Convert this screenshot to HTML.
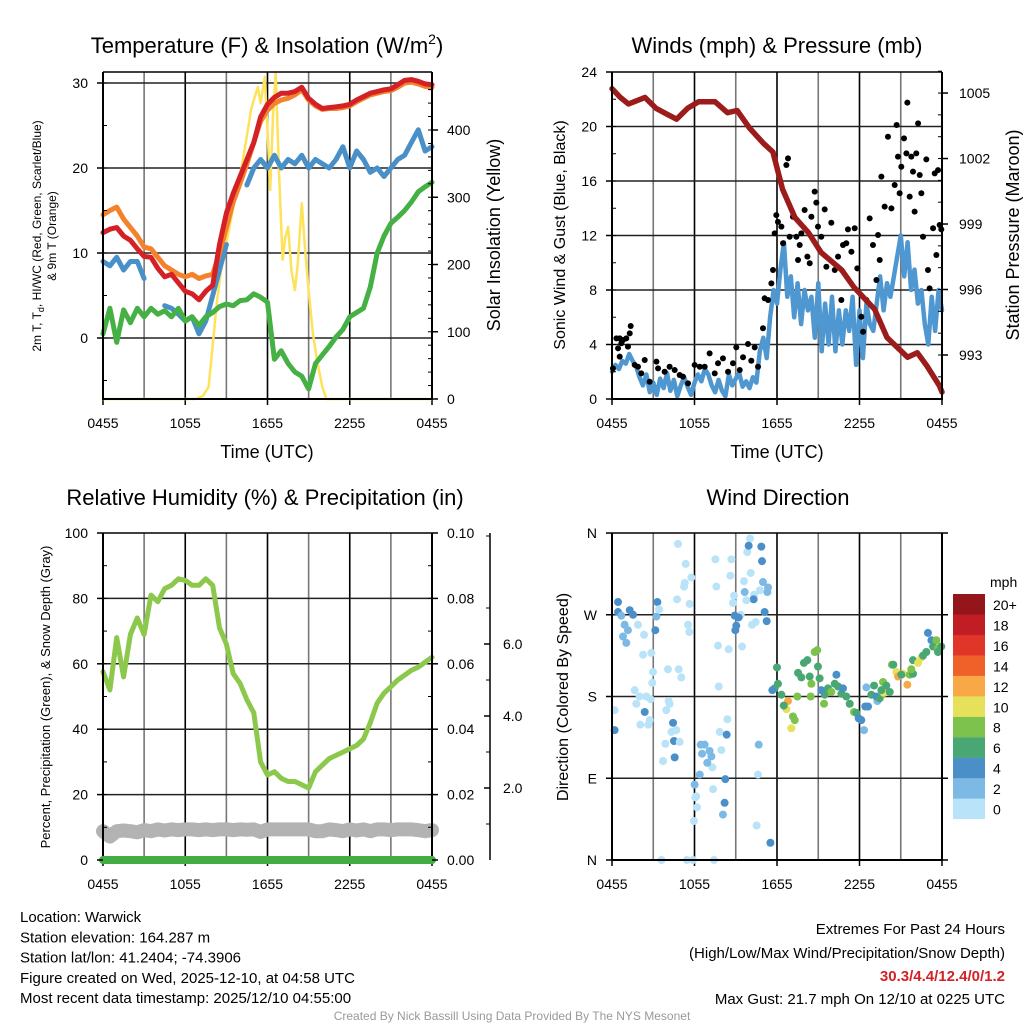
<!DOCTYPE html>
<html><head><meta charset="utf-8"><style>
body{margin:0;background:#fff;}
svg{display:block;font-family:"Liberation Sans",sans-serif;}
</style></head><body>
<svg id="c" width="1024" height="1024" viewBox="0 0 1024 1024"></svg>
<script>
// ---------- DATA ----------
const halfHours = [];for(let i=0;i<=48;i++)halfHours.push(i*0.5);
const qHours = [];for(let i=0;i<=96;i++)qHours.push(i*0.25);
const xTickLabels = ["0455","1055","1655","2255","0455"];
const temp2m = [12.4,12.8,13,12,11.5,10.5,9.6,9.5,8.2,7.2,7.5,6.5,5.5,5.2,4.5,5.5,6.2,11,14.7,17,19,21,23,26,27.5,28.3,28.8,28.8,29,29.5,28.2,27.5,27,27.1,27.2,27.3,27.5,28,28.4,28.8,29,29.2,29.3,29.8,30.3,30.4,30.2,29.9,29.8];
const temp9m = [14.5,15,15.4,14,13,12,10.7,10.5,9.5,8.5,8,7.5,7.2,7.5,7,7.3,7.5,10,13,16,18.2,20.5,23,25.5,26.8,27.6,28,28.2,28.6,29.2,28,27.3,26.9,27,27,27.1,27.3,27.8,28.2,28.6,28.8,29,29.1,29.5,30,30.1,29.9,29.6,29.5];
const dewPoint = [0.5,3.5,-0.5,3.3,1.8,3.5,2.5,3.5,2.8,3.2,2.5,3.5,2,2.5,1.5,2.5,3,3.7,4,3.8,4.4,4.5,5.2,4.8,4.2,-2.5,-1.5,-3,-4,-4.5,-6,-3,-2,-1,0.1,1,2.5,3,3.5,6,10,12,13.5,14.2,15,16,17.2,17.8,18.3];
const windChill = [9,8.5,9.5,8,9,9,7,null,null,3.8,3.5,2.8,2,2.5,0.5,2,5,8,11,null,null,18,20,21,20,21.5,20,21,20.5,21.5,20,21,20.5,20,21,22.5,20,22,21,19.5,20,19,20,21,21.5,23,24.5,22,22.5];
const solarHours = [0,6.8,7.3,7.7,8.0,8.3,8.6,9,9.5,10,10.4,10.8,11.0,11.3,11.5,11.8,12.0,12.2,12.4,12.6,12.85,13.1,13.3,13.5,13.75,14,14.2,14.5,14.75,15,15.3,15.6,16,16.3,24];
const solarVals = [0,0,5,18,80,143,190,232,285,330,380,430,445,464,440,479,400,311,420,485,330,207,240,256,190,162,200,291,220,162,100,58,18,0,0];
const sonicWind = [2.0,2.5,2.2,2.8,2.6,3.3,2.8,2.4,1.6,1.0,1.8,0.5,1.2,0.3,1.5,0.8,1.9,0.6,1.4,0.2,1.0,1.6,0.9,0.3,1.2,1.8,1.3,2.2,1.8,1.0,0.5,1.4,0.6,0.2,1.8,1.0,1.5,1.9,0.9,1.3,0.8,1.6,1.2,3.5,4.5,3.0,6.0,8.0,7.0,9.5,11.5,7.5,9.0,6.0,8.5,5.5,8.0,6.5,7.5,4.5,8.5,3.5,7.0,4.0,7.5,3.5,6.5,4.0,6.5,5.0,7.5,2.5,6.5,3.0,7.0,5.5,5.0,7.0,9.0,6.5,8.5,7.5,9.0,10.5,12.0,9.0,11.5,8.0,9.5,7.0,8.0,5.5,4.0,7.5,5.0,8.0,6.5];
const pressHours = [0,0.6,1.2,2.4,3.2,4.1,4.7,5.5,6.3,7.5,8.4,9.1,10,11,11.7,12.4,13.3,14.3,15.2,16.7,17.6,19.1,20,21.5,22.2,22.9,23.8,24];
const pressVals = [1005.2,1004.8,1004.5,1004.8,1004.3,1004,1003.8,1004.3,1004.6,1004.6,1004.1,1004.2,1003.4,1002.7,1002.3,1000.6,999.3,998.6,997.7,996.9,996.1,995.1,993.8,992.9,993.1,992.5,991.6,991.3];
const gustHours = [0.07,0.32,0.56,0.44,0.68,0.8,1.04,1.29,1.36,1.16,0.56,1.65,1.89,2.13,2.38,2.74,3.23,3.35,3.83,4.19,4.56,4.92,5.16,5.53,6.01,6.38,6.74,7.1,7.47,7.71,8.07,8.44,8.8,9.04,9.29,9.53,9.89,10.13,10.38,10.62,10.98,11.1,11.35,11.59,11.71,11.83,11.95,12.07,12.32,12.44,12.68,12.8,12.92,13.16,13.41,13.53,13.65,13.77,14.01,14.21,14.38,14.5,14.74,14.86,14.98,15.22,15.47,15.59,15.95,16.2,16.44,16.68,16.8,17.04,17.16,17.41,17.65,17.84,18.13,18.26,18.5,18.74,18.98,19.23,19.35,19.47,19.59,19.83,20.07,20.32,20.56,20.7,20.8,20.92,21.04,21.24,21.41,21.48,21.65,21.77,21.89,22.01,22.13,22.26,22.38,22.5,22.62,22.86,22.98,23.1,23.35,23.47,23.59,23.71,23.83,23.95];
const gustVals = [2.25,4.45,4.45,3.72,4.09,4.33,4.45,4.82,5.36,3.84,3.11,2.5,2.37,1.88,2.86,1.27,2.74,2.25,2.0,2.37,2.13,1.76,1.64,1.15,2.5,2.37,2.37,3.35,1.88,2.62,2.98,2.0,2.62,3.79,2.13,3.06,4.04,2.81,3.79,2.37,5.19,7.39,7.27,8.49,9.47,12.16,13.5,13.0,12.65,11.43,17.17,17.66,11.91,13.38,11.91,10.2,11.3,12.16,13.87,10.45,9.96,13.38,15.22,14.41,12.65,11.91,13.92,9.71,12.94,9.47,10.45,7.27,11.3,11.43,12.45,10.81,12.53,9.59,6.04,4.94,7.27,13.26,11.3,8.73,12.04,10.2,16.32,14.12,19.25,13.99,15.71,20.11,17.79,15.1,17.05,19.13,18.03,21.75,14.85,17.79,16.69,13.75,18.03,20.23,16.44,15.1,11.91,17.59,9.47,8.12,12.53,16.56,10.57,16.8,12.77,12.45];
const rhVals = [57.6,52,68,56,69,74,69,81,79,83,84,86,85.5,84,84,86,84,71,66,57,54,49,45,30,26,27,25,24,24,23,22,27,29,31,32,33,34,35,37,42,48,51,53,55,56.5,58,59,60.5,62];
const snowDepth = [0.8,0.65,0.8,0.82,0.8,0.77,0.83,0.8,0.85,0.82,0.85,0.83,0.85,0.85,0.83,0.85,0.83,0.85,0.85,0.83,0.85,0.84,0.85,0.78,0.85,0.85,0.85,0.85,0.85,0.85,0.85,0.8,0.8,0.85,0.83,0.8,0.85,0.82,0.85,0.8,0.85,0.85,0.83,0.85,0.85,0.85,0.83,0.8,0.83];
const precipVals = [0,0,0,0,0,0,0,0,0,0,0,0,0,0,0,0,0,0,0,0,0,0,0,0,0,0,0,0,0,0,0,0,0,0,0,0,0,0,0,0,0,0,0,0,0,0,0,0,0];
const dirHours = [0.44,0.44,0.68,1.29,1.53,0.92,1.16,0.8,1.04,0.19,0.19,3.3,3.23,3.15,2.38,4.44,4.51,4.56,1.89,2.33,2.26,2.86,2.98,2.93,1.65,1.77,2.01,2.5,2.81,2.74,2.06,2.64,4.07,4.85,5.04,4.12,4.19,3.95,4.32,4.68,3.88,3.71,4.92,4.8,5.36,5.77,5.29,5.24,5.65,4.73,3.42,5.53,5.62,7.52,7.59,8.61,8.68,8.87,8.8,7.71,8.49,7.76,8.39,7.83,7.95,7.3,7.35,6.13,5.96,5.89,3.59,5.45,7.42,6.45,6.74,6.55,7.1,7.23,6.93,6.38,6.01,6.18,6.06,8.24,8.19,8.07,8.34,10.04,9.84,9.94,10.86,10.91,10.09,9.6,10.98,11.3,11.35,10.76,9.65,10.33,10.3,9.77,9.36,8.92,9.21,11.1,11.25,10.45,10.18,9.04,8.97,9.46,10.67,10.62,10.52,11.52,
12.0,12.07,11.83,11.66,12.32,12.8,12.68,12.49,13.16,13.04,13.29,14.21,14.93,14.74,13.96,13.53,13.77,14.38,14.5,14.98,15.1,13.48,14.45,15.42,15.47,15.22,15.71,16.32,16.2,15.95,16.44,16.68,16.8,17.04,17.29,17.6,17.77,17.94,18.13,18.33,18.42,18.62,18.5,19.06,19.3,18.86,19.23,19.47,19.71,19.78,19.95,20.36,20.46,20.68,20.8,21.16,21.04,21.48,21.65,21.89,21.77,21.89,22.26,22.5,22.62,22.86,22.98,23.23,23.35,23.59,23.71,23.95,23.71,20.2,19.59];
const dirDegs = [284,273,269,275,270,259,253,246,239,165,143,284,268,253,163,151,131,113,259,248,226,228,207,195,187,172,180,180,177,154,149,149,210,210,201,175,172,165,141,143,128,109,130,348,326,311,305,301,282,287,276,259,251,331,301,313,331,291,283,236,232,191,155,141,121,102,78,70,43,0,0,0,0,127,127,117,120,114,107,94,83,58,69,89,63,50,138,354,339,346,345,329,316,307,306,295,300,297,295,292,287,286,270,269,267,273,263,262,259,258,253,235,127,94,38,19,
212,194,189,187,182,175,166,170,158,145,154,220,231,229,217,206,201,202,194,213,200,180,180,172,182,187,189,204,194,185,191,183,189,180,172,163,162,156,154,143,169,169,190,192,175,182,180,178,196,184,192,215,215,207,202,205,204,193,204,205,210,220,217,223,225,229,250,242,235,242,233,235,229,185,187];
const dirSpeeds = [4.5,4.5,3,5,4.5,3,3,3,3,1,4.5,4.5,3,4.5,4.5,4.5,4.5,4.5,1,1,1,1,1,1,1,1,1,1,1,1,1,1,1,1,1,1,1,1,1,1,1,1,1,1,1,1,1,1,1,1,1,1,1,1,1,1,1,1,1,1,1,1,1,1,1,1,1,1,1,1,1,1,1,3,3,3,3,3,3,3,3,1,1,4.5,4.5,3,4.5,1,1,4.5,4.5,4.5,1,1,3,3,3,1,3,1,4.5,1,1,4.5,4.5,4.5,4.5,1,1,4.5,4.5,1,3,1,1,4.5,
6.5,7,6.5,4.5,6.5,13,10.5,7,8.5,10.5,8.5,6.5,8.5,8.5,6.5,7,7,6.5,8.5,7,6.5,8.5,8.5,8.5,7,4.5,6.5,4.5,6.5,8.5,6.5,6.5,4.5,6.5,6.5,8.5,7,4.5,4.5,3,4.5,4.5,3,6.5,3,6.5,4.5,6.5,8.5,10.5,7,8.5,7,10.5,13,10.5,7,13,8.5,7,8.5,7,10.5,10.5,6.5,6.5,4.5,4.5,6.5,8.5,8.5,7,7,7,6.5];
const speedBins = ["0","2","4","6","8","10","12","14","16","18","20+"];
const speedColors = ["#b9e3f8","#7cb9e4","#4a8fc8","#48a772","#7cc24c","#e6e05a","#f8a844","#f06129","#e03629","#c11d25","#94161b"];

// ---------- HELPERS ----------
const svg = document.getElementById('c');
const NS = 'http://www.w3.org/2000/svg';
function mk(tag, attrs, parent){const e=document.createElementNS(NS,tag);for(const k in attrs)e.setAttribute(k,attrs[k]);(parent||svg).appendChild(e);return e;}
function txt(s, x, y, size, anchor, parent, extra){const t=mk('text',Object.assign({x:x,y:y,'font-size':size,'text-anchor':anchor||'middle',fill:'#000'},extra||{}),parent);t.textContent=s;return t;}
function pathFrom(xs, ys, fx, fy){let d='',pen=false;for(let i=0;i<xs.length;i++){if(ys[i]===null){pen=false;continue;}d+=(pen?'L':'M')+fx(xs[i]).toFixed(1)+','+fy(ys[i]).toFixed(1);pen=true;}return d;}

function panel(name, x0, x1, y0, y1, hGrid, yToPix){
  const g = mk('g',{});
  
  
  const fx = h => x0 + h*(x1-x0)/24;
  for(let h=3;h<24;h+=3){const l=mk('line',{x1:fx(h),x2:fx(h),y1:y0,y2:y1,stroke:(h%6===0?'#000':'#777'),'stroke-width':1.6},g);}
  hGrid.forEach(v=>{const y=yToPix(v);const l=mk('line',{x1:x0,x2:x1,y1:y,y2:y,stroke:'#222','stroke-width':1.5},g);});
  xTickLabels.forEach((s,i)=>{const x=fx(i*6);const t=txt(s,x,y1+29,14,'middle',g);mk('line',{x1:x,x2:x,y1:y1,y2:y1+6,stroke:'#000','stroke-width':1.5},g);});
  return {g, fx};
}
function frame(g,x0,x1,y0,y1,rightFrame){
  const f=mk('path',{d:`M${x0},${y0}L${x0},${y1}L${x1},${y1}`+(rightFrame?`L${x1},${y0}`:''),fill:'none',stroke:'#000','stroke-width':2},g);
  
  const t=mk('line',{x1:x0,x2:x1,y1:y0,y2:y0,stroke:'#000','stroke-width':1.5},g);
}

// ---------- PANEL 1: Temperature ----------
(function(){
  const x0=103,x1=432,y0=72,y1=399;
  const yL = v => 338 - v*8.5;
  const yR = v => 399 - v*0.6725;
  const {g,fx} = panel('temperature-panel',x0,x1,y0,y1,[30,20,10,0],yL);
  const ys=mk('path',{d:pathFrom(solarHours,solarVals,fx,yR),fill:'none',stroke:'#fde25a','stroke-width':2.5,'stroke-linejoin':'round'},g);
  
  const wc=mk('path',{d:pathFrom(halfHours,windChill,fx,yL),fill:'none',stroke:'#4a90c8','stroke-width':5,'stroke-linejoin':'round','stroke-linecap':'round'},g);
  
  const dp=mk('path',{d:pathFrom(halfHours,dewPoint,fx,yL),fill:'none',stroke:'#45b043','stroke-width':5,'stroke-linejoin':'round','stroke-linecap':'round'},g);
  
  const t9=mk('path',{d:pathFrom(halfHours,temp9m,fx,yL),fill:'none',stroke:'#f4822d','stroke-width':5,'stroke-linejoin':'round','stroke-linecap':'round'},g);
  
  const t2=mk('path',{d:pathFrom(halfHours,temp2m,fx,yL),fill:'none',stroke:'#d42126','stroke-width':5,'stroke-linejoin':'round','stroke-linecap':'round'},g);
  
  frame(g,x0,x1,y0,y1,false);
  mk('line',{x1:x1,x2:x1,y1:y0,y2:y1,stroke:'#000','stroke-width':2},g);
  [30,20,10,0].forEach(v=>{const t=txt(String(v),88,yL(v)+5,14,'end',g);mk('line',{x1:x0-6,x2:x0,y1:yL(v),y2:yL(v),stroke:'#000','stroke-width':1.5},g);});
  for(let v=-5;v<=30;v+=5)mk('line',{x1:x0,x2:x0+4,y1:yL(v),y2:yL(v),stroke:'#000','stroke-width':1},g);
  [0,100,200,300,400].forEach(v=>{const t=txt(String(v),447,yR(v)+5,14,'start',g);mk('line',{x1:x1,x2:x1+6,y1:yR(v),y2:yR(v),stroke:'#000','stroke-width':1.5},g);});
  for(let v=20;v<480;v+=20)mk('line',{x1:x1-4,x2:x1,y1:yR(v),y2:yR(v),stroke:'#000','stroke-width':1},g);
  const ti=mk('text',{x:267,y:53,'font-size':22,'text-anchor':'middle'},g);ti.innerHTML='Temperature (F) &amp; Insolation (W/m<tspan font-size="14" dy="-9">2</tspan><tspan dy="9">)</tspan>';
  
  const xt=txt('Time (UTC)',267,458,18,'middle',g);
  const yl=mk('text',{transform:'translate(41,236) rotate(-90)','font-size':12,'text-anchor':'middle'},g);yl.innerHTML='2m T, T<tspan font-size="9" dy="3">d</tspan><tspan dy="-3">, HI/WC (Red, Green, Scarlet/Blue)</tspan>';
  
  const yl2=mk('text',{transform:'translate(56,236) rotate(-90)','font-size':12,'text-anchor':'middle'},g);yl2.textContent='& 9m T (Orange)';
  
  const yr=mk('text',{transform:'translate(500,235) rotate(-90)','font-size':18,'text-anchor':'middle'},g);yr.textContent='Solar Insolation (Yellow)';
  
})();

// ---------- PANEL 2: Winds ----------
(function(){
  const x0=612,x1=942,y0=72,y1=399;
  const yL = v => 399 - v*13.625;
  const yR = v => 355 - (v-993)*21.83;
  const {g,fx} = panel('winds-panel',x0,x1,y0,y1,[4,8,12,16,20],yL);
  const sw=mk('path',{d:pathFrom(qHours,sonicWind,fx,yL),fill:'none',stroke:'#4f97d0','stroke-width':4.5,'stroke-linejoin':'round','stroke-linecap':'round'},g);
  
  gustHours.forEach((h,i)=>{const c=mk('circle',{cx:fx(h),cy:yL(gustVals[i]),r:3,fill:'#000'},g);
    
    });
  const pr=mk('path',{d:pathFrom(pressHours,pressVals,fx,yR),fill:'none',stroke:'#9c1c1c','stroke-width':5.5,'stroke-linejoin':'round','stroke-linecap':'round'},g);
  
  frame(g,x0,x1,y0,y1,true);
  [0,4,8,12,16,20,24].forEach(v=>{const t=txt(String(v),597,yL(v)+5,14,'end',g);mk('line',{x1:x0-6,x2:x0,y1:yL(v),y2:yL(v),stroke:'#000','stroke-width':1.5},g);});
  for(let v=2;v<24;v+=2)mk('line',{x1:x0,x2:x0+4,y1:yL(v),y2:yL(v),stroke:'#000','stroke-width':1},g);
  [993,996,999,1002,1005].forEach(v=>{const t=txt(String(v),959,yR(v)+5,14,'start',g);mk('line',{x1:x1,x2:x1+6,y1:yR(v),y2:yR(v),stroke:'#000','stroke-width':1.5},g);});
  for(let v=992;v<=1006;v++)mk('line',{x1:x1-4,x2:x1,y1:yR(v),y2:yR(v),stroke:'#000','stroke-width':1},g);
  const ti=txt('Winds (mph) & Pressure (mb)',777,53,22,'middle',g);
  const xt=txt('Time (UTC)',777,458,18,'middle',g);
  const yl=mk('text',{transform:'translate(565,235) rotate(-90)','font-size':16,'text-anchor':'middle'},g);yl.textContent='Sonic Wind & Gust (Blue, Black)';
  
  const yr=mk('text',{transform:'translate(1019,235) rotate(-90)','font-size':18,'text-anchor':'middle'},g);yr.textContent='Station Pressure (Maroon)';
  
})();

// ---------- PANEL 3: RH ----------
(function(){
  const x0=103,x1=432,y0=533,y1=860;
  const yL = v => 860 - v*3.27;
  const yS = v => 860 - v*36;
  const {g,fx} = panel('humidity-panel',x0,x1,y0,y1,[20,40,60,80],yL);
  const sd=mk('path',{d:pathFrom(halfHours,snowDepth,fx,yS),fill:'none',stroke:'#b3b3b3','stroke-width':14,'stroke-linejoin':'round','stroke-linecap':'round'},g);
  
  const rh=mk('path',{d:pathFrom(halfHours,rhVals,fx,yL),fill:'none',stroke:'#8cc84b','stroke-width':5,'stroke-linejoin':'round','stroke-linecap':'round'},g);
  
  frame(g,x0,x1,y0,y1,true);
  const pc=mk('path',{d:pathFrom(halfHours,precipVals,fx,v=>860-v*3270),fill:'none',stroke:'#43ac43','stroke-width':8,'stroke-linecap':'round'},g);
  
  [0,20,40,60,80,100].forEach(v=>{const t=txt(String(v),88,yL(v)+5,14,'end',g);mk('line',{x1:x0-6,x2:x0,y1:yL(v),y2:yL(v),stroke:'#000','stroke-width':1.5},g);});
  for(let v=10;v<100;v+=10)mk('line',{x1:x0,x2:x0+4,y1:yL(v),y2:yL(v),stroke:'#000','stroke-width':1},g);
  ['0.00','0.02','0.04','0.06','0.08','0.10'].forEach((s,i)=>{const y=yL(i*20);const t=txt(s,447,y+5,14,'start',g);mk('line',{x1:x1,x2:x1+6,y1:y,y2:y,stroke:'#000','stroke-width':1.5},g);});
  for(let v=10;v<100;v+=10)mk('line',{x1:x1-4,x2:x1,y1:yL(v),y2:yL(v),stroke:'#000','stroke-width':1},g);
  const sa=mk('line',{x1:490,x2:490,y1:533,y2:860,stroke:'#000','stroke-width':1.5},g);
  ['2.0','4.0','6.0'].forEach((s,i)=>{const y=yS((i+1)*2);const t=txt(s,503,y+5,14,'start',g);mk('line',{x1:484,x2:490,y1:y,y2:y,stroke:'#000','stroke-width':1.5},g);});
  for(let v=1;v<=9;v+=2)mk('line',{x1:486,x2:490,y1:yS(v),y2:yS(v),stroke:'#000','stroke-width':1},g);
  const ti=txt('Relative Humidity (%) & Precipitation (in)',265,505,22,'middle',g);
  const yl=mk('text',{transform:'translate(50,697) rotate(-90)','font-size':13,'text-anchor':'middle'},g);yl.textContent='Percent, Precipitation (Green), & Snow Depth (Gray)';
  
})();

// ---------- PANEL 4: Wind direction ----------
(function(){
  const x0=612,x1=942,y0=533,y1=860;
  const yD = v => 860 - v*0.9083;
  const {g,fx} = panel('wind-direction-panel',x0,x1,y0,y1,[90,180,270],yD);
  dirHours.forEach((h,i)=>{const bin=Math.min(10,Math.floor(dirSpeeds[i]/2));
    const c=mk('circle',{cx:fx(h),cy:yD(dirDegs[i]),r:4,fill:speedColors[bin]},g);
    
    });
  frame(g,x0,x1,y0,y1,true);
  ['N','E','S','W','N'].forEach((s,i)=>{const y=yD(i*90);const t=txt(s,597,y+5,14,'end',g);mk('line',{x1:x0-6,x2:x0,y1:y,y2:y,stroke:'#000','stroke-width':1.5},g);mk('line',{x1:x1,x2:x1+6,y1:y,y2:y,stroke:'#000','stroke-width':1.5},g);});
  const ti=txt('Wind Direction',778,505,22,'middle',g);
  const yl=mk('text',{transform:'translate(568,697) rotate(-90)','font-size':16,'text-anchor':'middle'},g);yl.textContent='Direction (Colored By Speed)';
  
  const lg=mk('g',{},g);
  const mt=txt('mph',990,587,14,'start',lg);
  speedBins.forEach((s,i)=>{const y=594+(10-i)*20.45;const r=mk('rect',{x:953,y:y,width:32,height:20.6,fill:speedColors[i]},lg);
    
    const t=txt(s,993,y+16,14,'start',lg);});
})();

// ---------- FOOTER TEXT ----------
const infoLines = ["Location: Warwick","Station elevation: 164.287 m","Station lat/lon: 41.2404; -74.3906","Figure created on Wed, 2025-12-10, at 04:58 UTC","Most recent data timestamp: 2025/12/10 04:55:00"];
infoLines.forEach((s,i)=>{const t=txt(s,20,922+i*20.3,15,'start');});
const e1=txt('Extremes For Past 24 Hours',1005,934,15,'end');
const e2=txt('(High/Low/Max Wind/Precipitation/Snow Depth)',1005,958,15,'end');
const e3=txt('30.3/4.4/12.4/0/1.2',1005,981,15,'end',null,{fill:'#d42126','font-weight':'bold'});
const e4=txt('Max Gust: 21.7 mph On 12/10 at 0225 UTC',1005,1004,15,'end');
const cr=txt('Created By Nick Bassill Using Data Provided By The NYS Mesonet',512,1020,12,'middle',null,{fill:'#999'});
</script>
</body></html>
